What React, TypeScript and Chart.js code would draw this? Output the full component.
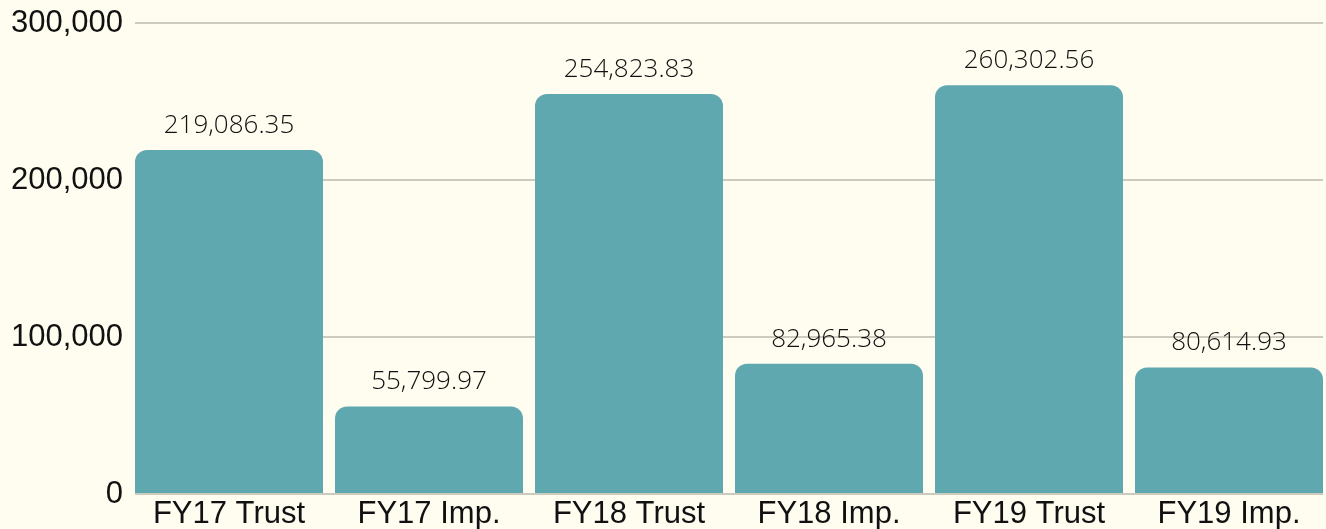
import React, { useEffect, useRef } from 'react';
import { Chart, registerables } from 'chart.js';

Chart.register(...registerables);

const labels = ['FY17 Trust', 'FY17 Imp.', 'FY18 Trust', 'FY18 Imp.', 'FY19 Trust', 'FY19 Imp.'];
const values = [219086.35, 55799.97, 254823.83, 82965.38, 260302.56, 80614.93];
const yTickValues = [0, 100000, 200000, 300000];

const fmtValue = (v: number) =>
  v.toLocaleString('en-US', { minimumFractionDigits: 2, maximumFractionDigits: 2 });

const valueLabelPlugin = {
  id: 'valueLabels',
  afterDatasetsDraw(chart: any) {
    const ctx = chart.ctx;
    const meta = chart.getDatasetMeta(0);
    ctx.save();
    ctx.font = '300 26px "Open Sans"';
    ctx.fillStyle = '#111111';
    ctx.textAlign = 'center';
    ctx.textBaseline = 'alphabetic';
    meta.data.forEach((bar: any, i: number) => {
      ctx.fillText(fmtValue(values[i]), bar.x, bar.y - 17);
    });
    ctx.restore();
  },
};

export default function App() {
  const ref = useRef<HTMLCanvasElement | null>(null);

  useEffect(() => {
    if (!ref.current) return;
    const chart = new Chart(ref.current, {
      type: 'bar',
      data: {
        datasets: [
          {
            data: values.map((v, i) => ({ x: i, y: v })),
            backgroundColor: '#5fa8b0',
            borderRadius: 12,
            borderSkipped: 'start',
            barPercentage: 0.94,
            categoryPercentage: 1,
          },
        ],
      },
      options: {
        animation: false,
        responsive: true,
        maintainAspectRatio: false,
        layout: { padding: { top: 23, right: 3, left: 0, bottom: 0 } },
        plugins: { legend: { display: false }, tooltip: { enabled: false } },
        scales: {
          x: {
            type: 'linear',
            offset: false,
            min: -0.47,
            max: 5.47,
            grid: { display: false, drawTicks: false },
            border: { display: false },
            afterBuildTicks: (s: any) => {
              s.ticks = labels.map((_, i) => ({ value: i }));
            },
            afterFit: (s: any) => {
              s.height = 35;
              s.paddingLeft = 0;
              s.paddingRight = 0;
            },
            ticks: {
              autoSkip: false,
              maxRotation: 0,
              padding: 2,
              color: '#111111',
              font: { family: '"Liberation Sans", Arial, sans-serif', size: 31 },
              callback: (v: any) => labels[v] ?? '',
            },
          },
          y: {
            min: 0,
            max: 300000,
            grid: { color: '#cdcabe', lineWidth: 2, drawTicks: false },
            border: { display: false },
            afterBuildTicks: (s: any) => {
              s.ticks = yTickValues.map((v) => ({ value: v }));
            },
            afterFit: (s: any) => {
              s.width = 135;
              s.paddingTop = 0;
              s.paddingBottom = 0;
            },
            ticks: {
              padding: 12,
              color: '#111111',
              font: { family: '"Liberation Sans", Arial, sans-serif', size: 31 },
              callback: (v: any) => Number(v).toLocaleString('en-US'),
            },
          },
        },
      },
      plugins: [valueLabelPlugin],
    });
    return () => chart.destroy();
  }, []);

  return (
    <div
      style={{
        position: 'absolute',
        left: 0,
        top: 0,
        width: 1326,
        height: 529,
        background: '#fffdf0',
      }}
    >
      <canvas ref={ref} />
    </div>
  );
}
